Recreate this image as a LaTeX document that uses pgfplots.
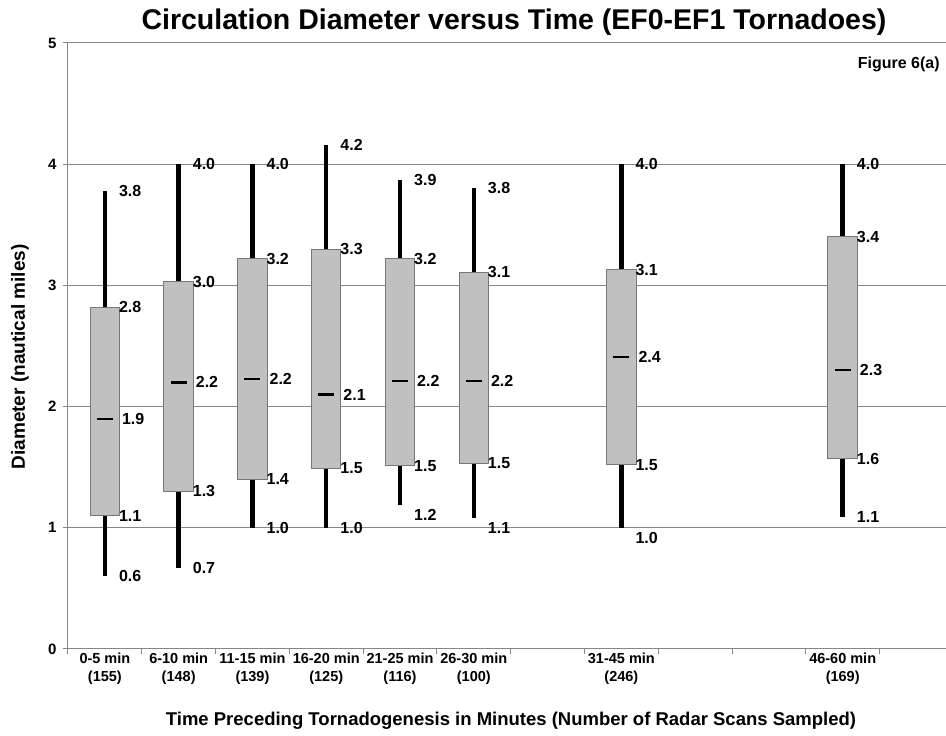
\documentclass[border=0pt]{standalone}
\usepackage{fontspec}
\setmainfont{Liberation Sans}
\usepackage{pgfplots}
\usepackage{pgfplotstable}
\pgfplotsset{compat=1.18}
\usepgfplotslibrary{statistics}
\definecolor{boxgray}{HTML}{C0C0C0}
\definecolor{gridgray}{HTML}{868686}
\definecolor{boxedge}{HTML}{777777}
\newcommand{\yl}[1]{{\fontsize{15}{17}\selectfont\bfseries #1}}

% labels at the whisker ends and quartiles (y = where the label sits)
\pgfplotstableread{
x   y     lab
0   3.78  3.8
0   2.82  2.8
0   1.10  1.1
0   0.60  0.6
1   4.00  4.0
1   3.03  3.0
1   1.30  1.3
1   0.67  0.7
2   4.00  4.0
2   3.22  3.2
2   1.40  1.4
2   1.00  1.0
3   4.16  4.2
3   3.30  3.3
3   1.49  1.5
3   1.00  1.0
4   3.87  3.9
4   3.22  3.2
4   1.51  1.5
4   1.11  1.2
5   3.80  3.8
5   3.11  3.1
5   1.53  1.5
5   1.00  1.1
7   4.00  4.0
7   3.13  3.1
7   1.52  1.5
7   0.92  1.0
10  4.00  4.0
10  3.40  3.4
10  1.57  1.6
10  1.09  1.1
}\lablo

% median labels
\pgfplotstableread{
x   y     lab
0   1.90  1.9
1   2.20  2.2
2   2.23  2.2
3   2.10  2.1
4   2.21  2.2
5   2.21  2.2
7   2.41  2.4
10  2.30  2.3
}\labmed

% pos, min, q1, median, q3, max
\newcommand{\tbox}[6]{\addplot[boxplot prepared={draw position=#1, lower whisker=#2, lower quartile=#3, median=#4, upper quartile=#5, upper whisker=#6,
  box extend=0.4, whisker extend=0, draw direction=y,
  every whisker/.style={black, line width=4.5pt},
  every box/.style={fill=boxgray, draw=boxedge, line width=1pt},
  every median/.style={black, line width=2.3pt, shorten <=6.8pt, shorten >=6.8pt}}] coordinates {};}

\begin{document}
\begin{tikzpicture}
\useasboundingbox (-68pt,-87pt) rectangle (878pt,649pt);
\begin{axis}[
  scale only axis, width=878pt, height=606pt,
  at={(0,0)}, anchor=south west,
  xmin=-0.5, xmax=11.4, ymin=0, ymax=5,
  axis x line*=bottom, axis y line*=left,
  axis line style={draw=gridgray, line width=1pt},
  ytick={0,1,2,3,4,5}, yticklabels={\yl{0},\yl{1},\yl{2},\yl{3},\yl{4},\yl{5}},
  ymajorgrids, grid style={gridgray, line width=1pt},
  xtick={-0.5,0.5,1.5,2.5,3.5,4.5,5.5,6.5,7.5,8.5,9.5,10.5}, xticklabels={},
  tick align=outside, major tick length=5pt, tick style={gridgray, line width=1pt},
  extra x ticks={0,1,2,3,4,5,7,10},
  extra x tick labels={{0-5 min\\(155)},{6-10 min\\(148)},{11-15 min\\(139)},{16-20 min\\(125)},{21-25 min\\(116)},{26-30 min\\(100)},{31-45 min\\(246)},{46-60 min\\(169)}},
  extra x tick style={grid=none, major tick length=0pt},
  xticklabel style={align=center, font=\fontsize{14.5}{18}\selectfont\bfseries},
  yticklabel style={font=\fontsize{15}{17}\selectfont\bfseries, xshift=-3pt},
  title={Circulation Diameter versus Time (EF0-EF1 Tornadoes)},
  title style={at={(axis description cs:0.5,1)}, anchor=center, yshift=15pt, xshift=7pt, font=\fontsize{28.5}{32}\selectfont\bfseries},
  xlabel={Time Preceding Tornadogenesis in Minutes (Number of Radar Scans Sampled)},
  xlabel style={at={(axis description cs:0.5,-0.119)}, anchor=center, xshift=4pt, font=\fontsize{18.5}{22}\selectfont\bfseries},
  ylabel={Diameter (nautical miles)},
  ylabel style={at={(axis description cs:-0.0547,0.482)}, anchor=center, font=\fontsize{19}{22}\selectfont\bfseries},
]
\tbox{0}{0.60}{1.10}{1.90}{2.82}{3.78}
\tbox{1}{0.67}{1.30}{2.20}{3.03}{4.00}
\tbox{2}{1.00}{1.40}{2.23}{3.22}{4.00}
\tbox{3}{1.00}{1.49}{2.10}{3.30}{4.16}
\tbox{4}{1.19}{1.51}{2.21}{3.22}{3.87}
\tbox{5}{1.08}{1.53}{2.21}{3.11}{3.80}
\tbox{7}{1.00}{1.52}{2.41}{3.13}{4.00}
\tbox{10}{1.09}{1.57}{2.30}{3.40}{4.00}

\addplot[only marks, mark=none, nodes near coords, point meta=explicit symbolic,
  nodes near coords style={anchor=west, xshift=14pt, inner sep=0pt, font=\fontsize{16}{18}\selectfont\bfseries}]
  table[x=x, y=y, meta=lab] {\lablo};
\addplot[only marks, mark=none, nodes near coords, point meta=explicit symbolic,
  nodes near coords style={anchor=west, xshift=17pt, inner sep=0pt, font=\fontsize{16}{18}\selectfont\bfseries}]
  table[x=x, y=y, meta=lab] {\labmed};

\node[anchor=north east, inner sep=0pt, font=\fontsize{16}{18}\selectfont\bfseries] at (rel axis cs:0.993,0.978) {Figure 6(a)};
\end{axis}
\end{tikzpicture}
\end{document}
